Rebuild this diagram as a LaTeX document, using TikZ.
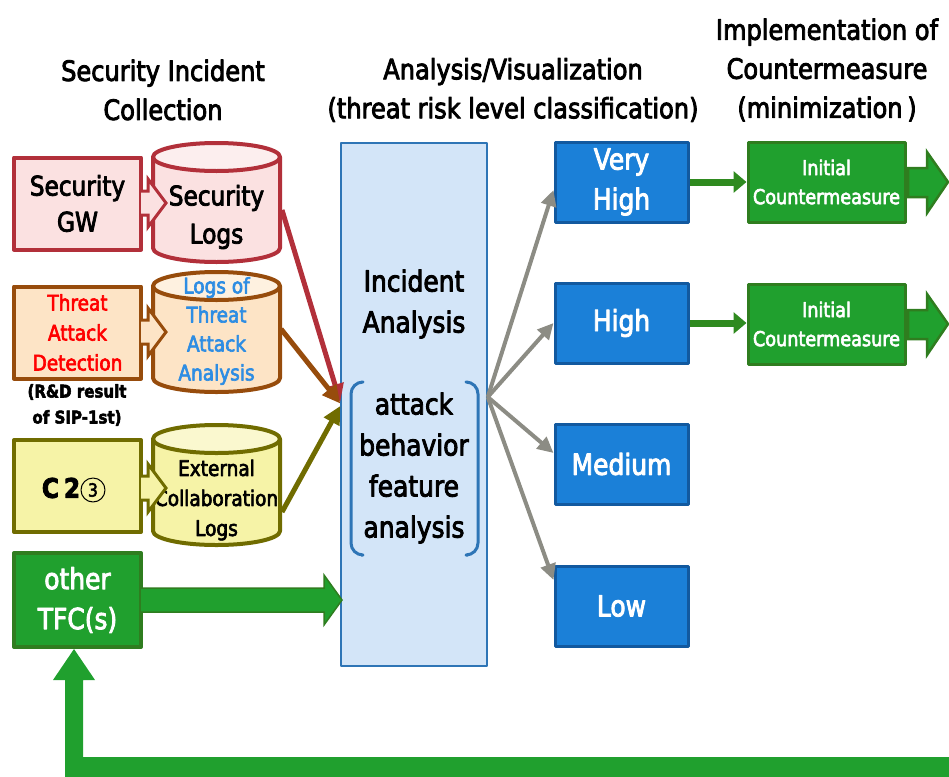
\documentclass[tikz,border=0pt]{standalone}
\usepackage{fontspec}
\setmainfont{DejaVu Sans}[FakeStretch=0.86,FakeBold=3]
\usetikzlibrary{arrows.meta}
\definecolor{secred}{HTML}{B2303A}
\definecolor{secfill}{HTML}{FBE1E1}
\definecolor{sectop}{HTML}{FCEEEE}
\definecolor{tadbrown}{HTML}{974C0C}
\definecolor{tadfill}{HTML}{FDE4C6}
\definecolor{tadtop}{HTML}{FEF1E0}
\definecolor{olive}{HTML}{706C00}
\definecolor{yelfill}{HTML}{F6F3A7}
\definecolor{yeltop}{HTML}{FAF8CF}
\definecolor{tfcgreen}{HTML}{20A02E}
\definecolor{tfcdark}{HTML}{2F7D1F}
\definecolor{anafill}{HTML}{D3E5F8}
\definecolor{anadraw}{HTML}{2E75B6}
\definecolor{lvlfill}{HTML}{1B80D8}
\definecolor{lvldraw}{HTML}{12599F}
\definecolor{grayarr}{HTML}{8C8C84}
\definecolor{arrgreen}{HTML}{2F8A1F}
\definecolor{threatblue}{HTML}{2E8DE3}
\begin{document}
\begin{tikzpicture}[x=1pt,y=-1pt,line join=round,
	ttl/.style={font=\fontsize{28}{39}\selectfont,align=center,inner sep=0pt},
	txt/.style={align=center,inner sep=0pt},
	srcbox/.style={draw,line width=4pt,minimum width=127pt,minimum height=92pt,align=center,inner sep=0pt},
	lvl/.style={draw=lvldraw,fill=lvlfill,line width=3pt,minimum width=133pt,minimum height=80pt,text=white,align=center,inner sep=0pt,font=\fontsize{29}{40}\selectfont},
	cmbox/.style={draw=tfcdark,fill=tfcgreen,line width=3pt,minimum width=157pt,minimum height=80pt,text=white,align=center,inner sep=0pt,font=\fontsize{20.5}{29}\selectfont},
	grayline/.style={draw=grayarr,line width=4pt,-{Triangle[length=16pt,width=15pt]}},
	inline/.style={line width=5pt,-{Triangle[length=18pt,width=17pt]}},
	greenline/.style={draw=arrgreen,line width=7pt,-{Triangle[length=13pt,width=21pt]}}]
	\path[use as bounding box] (0,0) rectangle (949,776);
	\clip (0,0) rectangle (949,776);
	% tieu de
	\node[ttl] (ttlcol) at (163,90) {Security Incident\\Collection};
	\node[ttl] (ttlana) at (513,90) {Analysis/Visualization\\(threat risk level classification)};
	\node[ttl] (ttlimp) at (827,70) {Implementation of\\Countermeasure\\(minimization\,)};
	% khoi nguon
	\node[srcbox,draw=secred,fill=secfill,font=\fontsize{27}{36}\selectfont] (secgw) at (77.5,203.5) {Security\\GW};
	\node[srcbox,draw=tadbrown,fill=tadfill,text=red,font=\fontsize{21.5}{30}\selectfont] (tad) at (77.5,332.5) {Threat\\Attack\\Detection};
	\node[txt,font=\bfseries\fontsize{17.5}{26}\selectfont] (rnd) at (77,405) {(R\&D result\\of SIP-1st)};
	\node[srcbox,draw=olive,fill=yelfill] (ctwo) at (77.5,486) {};
	\node[txt,font=\bfseries\fontsize{27}{36}\selectfont] (ctext) at (61,488) {C\hspace{5pt}2};
	\node[txt,circle,draw,line width=1pt,minimum size=24pt,font=\fontsize{18}{20}\selectfont] (cthree) at (93,490) {3};
	\node[srcbox,draw=tfcdark,fill=tfcgreen,text=white,font=\fontsize{29}{40}\selectfont,minimum height=94pt] (tfc) at (77.5,600) {other\\TFC(s)};
	% ve cac tru log
	\foreach \yt/\yb/\dc/\fc/\tc in {157/248/secred/secfill/sectop,286/378/tadbrown/tadfill/tadtop,439/531/olive/yelfill/yeltop}{
		\fill[\fc] (153,\yt) -- (153,\yb) arc[start angle=180,end angle=360,x radius=63.5pt,y radius=14pt] -- (280,\yt) -- cycle;
		\draw[\dc,line width=4pt] (153,\yt) -- (153,\yb) arc[start angle=180,end angle=360,x radius=63.5pt,y radius=14pt] -- (280,\yt);
		\filldraw[draw=\dc,fill=\tc,line width=4pt] (216.5,\yt) ellipse[x radius=63.5pt,y radius=14pt];
	}
	\node[txt,font=\fontsize{27}{38}\selectfont] (seclog) at (216.5,217) {Security\\Logs};
	\node[txt,text=threatblue,font=\fontsize{21.5}{29}\selectfont] (tlog) at (216.5,331) {Logs of\\Threat\\Attack\\Analysis};
	\node[txt,font=\fontsize{21.5}{30}\selectfont] (extlog) at (216.5,500) {External\\Collaboration\\Logs};
	% mui ten khoi -> log
	\foreach \yc/\dc/\fc in {203/secred/secfill,332/tadbrown/tadfill,488/olive/yelfill}{
		\fill[\fc] (141,\yc-12) -- (148,\yc-12) -- (148,\yc-24) -- (166,\yc) -- (148,\yc+24) -- (148,\yc+12) -- (141,\yc+12) -- cycle;
		\draw[\dc,line width=3pt,line join=miter] (141,\yc-12) -- (148,\yc-12) -- (148,\yc-24) -- (166,\yc) -- (148,\yc+24) -- (148,\yc+12) -- (141,\yc+12);
	}
	% khoi phan tich
	\node[draw=anadraw,fill=anafill,line width=1.5pt,minimum width=146pt,minimum height=523pt] (ana) at (414,404.5) {};
	\node[txt,font=\fontsize{29}{41}\selectfont] (inca) at (414,304) {Incident\\Analysis};
	\node[txt,font=\fontsize{29}{41}\selectfont] (abfa) at (414,468) {attack\\behavior\\feature\\analysis};
	\draw[anadraw,line width=3pt,rounded corners=12pt] (361,382) -- (351,382) -- (351,555) -- (361,555);
	\draw[anadraw,line width=3pt,rounded corners=12pt] (468,382) -- (478,382) -- (478,555) -- (468,555);
	% duong vao
	\coordinate (slout) at (282,210);
	\coordinate (tlout) at (281,329);
	\coordinate (exout) at (282,512);
	\draw[inline,secred] (slout) -- ([yshift=2.5pt]ana.west);
	\draw[inline,tadbrown] (tlout) -- ([yshift=1pt]ana.west);
	\draw[inline,olive] (exout) -- ([yshift=-1.5pt]ana.west);
	\fill[tfcgreen] (141,588) -- (324,588) -- (324,575) -- (342,600) -- (324,625) -- (324,612) -- (141,612) -- cycle;
	\draw[tfcdark,line width=1.5pt,line join=miter] (141,588) -- (324,588) -- (324,575) -- (342,600) -- (324,625) -- (324,612) -- (141,612);
	% muc do
	\node[lvl] (vhigh) at (621.5,182) {Very\\High};
	\node[lvl] (high) at (621.5,323) {High};
	\node[lvl] (med) at (621.5,464) {Medium};
	\node[lvl] (low) at (621.5,606) {Low};
	\draw[grayline] ([yshift=7.5pt]ana.east) -- ([yshift=-8pt]vhigh.west);
	\draw[grayline] ([yshift=7.5pt]ana.east) -- (high.west);
	\draw[grayline] ([yshift=7.5pt]ana.east) -- ([yshift=11pt]med.west);
	\draw[grayline] ([yshift=7.5pt]ana.east) -- ([yshift=26pt]low.west);
	% doi pho
	\node[cmbox] (cm1) at (826.5,182) {Initial\\Countermeasure};
	\node[cmbox] (cm2) at (826.5,324) {Initial\\Countermeasure};
	\draw[greenline] (vhigh.east) -- (cm1.west);
	\draw[greenline] (high.east) -- (high.east -| cm2.west);
	\foreach \yc in {182,324}{
		\filldraw[draw=tfcdark,fill=tfcgreen,line width=2.5pt,line join=miter] (908,\yc-14) -- (927,\yc-14) -- (927,\yc-30) -- (948,\yc) -- (927,\yc+31) -- (927,\yc+15) -- (908,\yc+15) -- cycle;
	}
	% vong phan hoi
	\fill[tfcgreen] ([xshift=-3.5pt]tfc.south) -- ++(21,31) -- ++(-12,0) -- ++(0,77) -- ++(880,0) -- ++(0,40) -- ++(-898,0) -- ++(0,-117) -- ++(-12,0) -- cycle;
\end{tikzpicture}
\end{document}
